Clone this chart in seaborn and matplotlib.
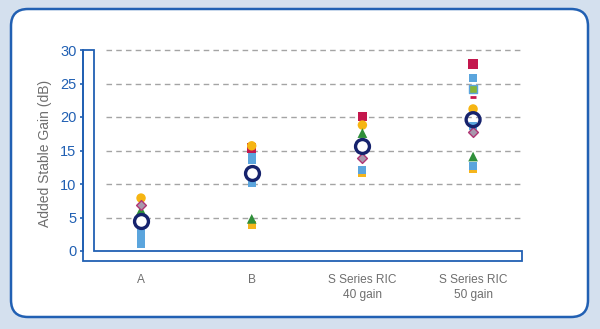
import numpy as np
import pandas as pd
import matplotlib
matplotlib.use("Agg")
import matplotlib.pyplot as plt
import seaborn as sns
from matplotlib.patches import FancyBboxPatch, Polygon

# ---- data ----
categories = ["A", "B", "S Series RIC\n40 gain", "S Series RIC\n50 gain"]
y_ticks = [0, 5, 10, 15, 20, 25, 30]
y_label = "Added Stable Gain (dB)"

nan = np.nan
orange_square = [3.2, 3.9, 11.6, 12.2]
blue_square_1 = [2.8, 14.3, 15.5, 25.8]
blue_square_2 = [1.9, 13.6, 12.1, 12.7]
blue_square_3 = [1.0, 10.1, nan, 18.6]
lime_square = [nan, nan, nan, 24.2]
red_dash = [nan, nan, nan, 23.0]
red_square = [nan, 15.4, 20.1, 27.9]
orange_circle = [7.9, 15.7, 18.8, 21.2]
green_triangle = [6.1, 4.8, 17.6, 14.1]
purple_diamond = [6.9, nan, 13.9, 17.8]
mean_gain = [4.5, 11.7, 15.7, 19.6]

BLUE = "#2160b3"
GRAY = "#6e6e6e"

sns.set_style("white")
plt.rcParams["font.family"] = ["Liberation Sans", "DejaVu Sans"]

fig = plt.figure(figsize=(6, 3.29), dpi=100, facecolor="#d4e0ee")

# ---- background panel (pixel coordinates) ----
bg = fig.add_axes([0, 0, 1, 1])
bg.set_xlim(0, 600)
bg.set_ylim(329, 0)
bg.axis("off")
panel = FancyBboxPatch((11, 9), 577, 308, boxstyle="round,pad=0,rounding_size=17",
                       facecolor="white", edgecolor=BLUE, linewidth=1.8)
bg.add_patch(panel)
inner = FancyBboxPatch((25, 11), 556, 295, boxstyle="round,pad=0,rounding_size=10",
                       facecolor="none", edgecolor="none")
bg.add_patch(inner)
ys = np.linspace(11, 306, 300)
t = np.clip((ys - 110) / 196, 0, 1) ** 1.1
c0 = np.array([1.0, 1.0, 1.0])
c1 = np.array([0xd8, 0xe2, 0xee]) / 255
grad = (c0[None, :] * (1 - t[:, None]) + c1[None, :] * t[:, None])[:, None, :]
im = bg.imshow(grad, extent=(25, 581, 306, 11), aspect="auto", origin="upper",
               interpolation="bilinear")
im.set_clip_path(inner)
bg.set_xlim(0, 600)
bg.set_ylim(329, 0)

# ---- main axes ----
ax = fig.add_axes([94 / 600, 78 / 329, 427 / 600, 201 / 329])
ax.patch.set_alpha(0)

series = [
    (orange_square, "s", "#f5b51c", 5.8, "none", 0),
    (blue_square_1, "s", "#5ba5dd", 5.8, "none", 0),
    (blue_square_2, "s", "#5ba5dd", 5.8, "none", 0),
    (blue_square_3, "s", "#5ba5dd", 5.8, "none", 0),
    (lime_square, "s", "#86b53a", 5.8, "#5ba5dd", 1.0),
    (red_dash, "_", "#c8174e", 5.0, "#c8174e", 2.0),
    (red_square, "s", "#c4174d", 6.8, "none", 0),
    (orange_circle, "o", "#f6b512", 6.8, "none", 0),
    (green_triangle, "^", "#2f8f3a", 7.0, "none", 0),
    (purple_diamond, "D", "#a898ad", 5.0, "#b03674", 1.0),
]
for vals, mk, col, sz, ec, lw in series:
    sns.stripplot(x=categories, y=vals, order=categories, jitter=False,
                  marker=mk, color=col, size=sz, edgecolor=ec, linewidth=lw,
                  ax=ax, zorder=3)
sns.stripplot(x=categories, y=mean_gain, order=categories, jitter=False,
              marker="o", color="white", edgecolor="#16236d",
              size=10, linewidth=2.4, ax=ax, zorder=4)
# make mean circle hollow
coll = ax.collections[-1]
coll.set_facecolor("none")
coll.set_edgecolor("#16236d")
coll.set_linewidth(2.4)

ax.set_xlim(-0.425, 3.433)
ax.set_ylim(0, 30)
ax.set_yticks(y_ticks)

# dashed grid
for v in y_ticks[1:]:
    ax.axhline(v, xmin=0.028, xmax=1.005, color="#a4a4a4", linewidth=1.0,
               linestyle=(0, (4, 3)), zorder=1, clip_on=False)

# 3D-like axis frame
frame = Polygon([(-0.0258, 1), (0, 1), (0, 0), (1.0023, 0), (1.0023, -0.0498),
                 (-0.0258, -0.0498)], closed=True, facecolor="white",
                edgecolor=BLUE, linewidth=1.3, transform=ax.transAxes,
                clip_on=False, zorder=2)
ax.add_patch(frame)

for s in ["top", "right", "bottom"]:
    ax.spines[s].set_visible(False)
ax.spines["left"].set_position(("outward", 7.9))
ax.spines["left"].set_color(BLUE)
ax.spines["left"].set_linewidth(1.3)

ax.tick_params(axis="y", length=2.5, width=1.2, color=BLUE, pad=2.2,
               labelcolor=BLUE, labelsize=10.5, left=True)
ax.tick_params(axis="x", length=0, pad=16.5, labelcolor=GRAY, labelsize=8.6)
for lab in ax.get_xticklabels():
    lab.set_linespacing(1.35)

ax.set_xlabel("")
ax.set_ylabel(y_label, color=GRAY, fontsize=10)
ax.yaxis.label.set(ha="center", va="center")
ax.yaxis.set_label_coords(-0.115, 0.485)

fig.savefig("out.png", dpi=100, facecolor=fig.get_facecolor())
